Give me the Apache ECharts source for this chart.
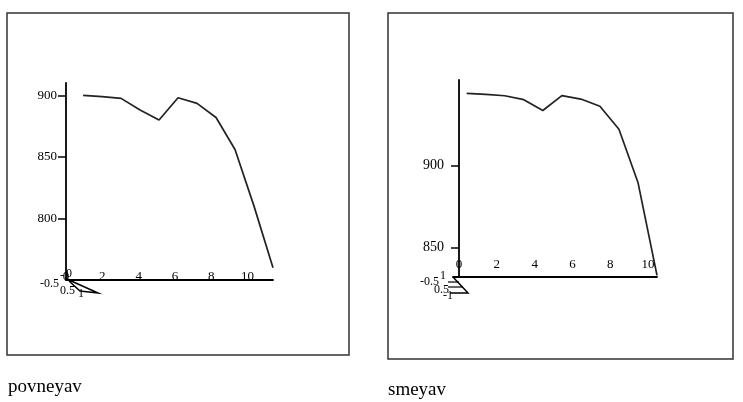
<!DOCTYPE html>
<html>
<head>
<meta charset="utf-8">
<script src="https://cdn.jsdelivr.net/npm/echarts@6/dist/echarts.min.js"></script>
<style>
  html, body { margin: 0; padding: 0; background: #fff; }
  #chart { width: 743px; height: 402px; }
</style>
</head>
<body>
<div id="chart"></div>
<script>
// index of the points (same for both plots)
var xIndex = [0, 1, 2, 3, 4, 5, 6, 7, 8, 9, 10];
// values
var povneyav = [900, 899, 897.5, 888, 880, 898, 893.5, 882, 856, 810, 760];
var smeyav = [943.9, 943.3, 942.4, 940, 933.4, 942.5, 940.4, 936, 922, 889.6, 833];
// tick labels
var xTicks = [0, 2, 4, 6, 8, 10];
var leftYTicks = [800, 850, 900];
var rightYTicks = [850, 900];

var font = 'Liberation Serif';
var chart = echarts.init(document.getElementById('chart'));

function pairs(ys) {
  return xIndex.map(function (x, i) { return [x, ys[i]]; });
}

// visible axis with the numbers, drawn on the grid's bottom edge
function labelAxis(grid, min, max, margin) {
  return {
    type: 'value', gridIndex: grid, min: min, max: max,
    axisLine: { show: true, lineStyle: { color: '#000', width: 1.8 } },
    axisTick: { show: false },
    splitLine: { show: false },
    axisLabel: {
      inside: true, margin: margin, customValues: xTicks,
      fontFamily: font, fontSize: 13, color: '#000'
    }
  };
}

// hidden axis that places the points
function dataAxis(grid, min, max) {
  return { type: 'value', gridIndex: grid, min: min, max: max, show: false };
}

function valueAxis(grid, min, max, ticks, size) {
  return {
    type: 'value', gridIndex: grid, min: min, max: max,
    axisLine: { show: true, lineStyle: { color: '#000', width: 1.8 } },
    axisTick: { show: true, length: 8, customValues: ticks, lineStyle: { color: '#000', width: 1.5 } },
    splitLine: { show: false },
    axisLabel: { margin: 9, customValues: ticks, fontFamily: font, fontSize: size, color: '#000' }
  };
}

function cornerText(x, y, t) {
  return { type: 'text', left: x, top: y, style: { text: t, font: '12px ' + font, fill: '#000' } };
}

chart.setOption({
  animation: false,
  title: [
    { text: 'povneyav', left: 8, top: 378, padding: 0, textStyle: { fontFamily: font, fontSize: 19, fontWeight: 'normal', color: '#000' } },
    { text: 'smeyav', left: 388, top: 381, padding: 0, textStyle: { fontFamily: font, fontSize: 19, fontWeight: 'normal', color: '#000' } }
  ],
  grid: [
    { left: 66, top: 83, width: 207, height: 197 },
    { left: 453, top: 80, width: 204, height: 197 }
  ],
  xAxis: [
    labelAxis(0, 0, 11.4, -3),
    dataAxis(0, -0.9, 10),
    labelAxis(1, -0.32, 10.47, 6),
    dataAxis(1, -0.72, 10)
  ],
  yAxis: [
    valueAxis(0, 750, 910, leftYTicks, 13),
    valueAxis(1, 832, 952, rightYTicks, 14)
  ],
  series: [
    {
      name: 'povneyav', type: 'line', xAxisIndex: 1, yAxisIndex: 0,
      data: pairs(povneyav), symbol: 'none', clip: false,
      lineStyle: { color: '#222', width: 1.7 }
    },
    {
      name: 'smeyav', type: 'line', xAxisIndex: 3, yAxisIndex: 1,
      data: pairs(smeyav), symbol: 'none', clip: false,
      lineStyle: { color: '#222', width: 1.7 }
    }
  ],
  graphic: [
    // plot frames
    { type: 'rect', shape: { x: 7, y: 13, width: 342, height: 342 }, style: { fill: 'none', stroke: '#333', lineWidth: 1.5 } },
    { type: 'rect', shape: { x: 388, y: 13, width: 345, height: 346 }, style: { fill: 'none', stroke: '#333', lineWidth: 1.5 } },
    // depth axis stubs at the origins
    { type: 'polyline', shape: { points: [[69, 280], [98, 293], [80, 291], [69, 281]] }, style: { stroke: '#000', lineWidth: 1.5, fill: 'none' } },
    { type: 'polyline', shape: { points: [[453, 277], [468, 293], [450, 293]] }, style: { stroke: '#000', lineWidth: 1.5, fill: 'none' } },
    { type: 'polyline', shape: { points: [[448, 282], [459, 282]] }, style: { stroke: '#000', lineWidth: 1.2 } },
    { type: 'polyline', shape: { points: [[448, 287], [463, 287]] }, style: { stroke: '#000', lineWidth: 1.2 } },
    // depth axis numbers
    cornerText(40, 278, '-0.5'),
    cornerText(60, 270, '-1'),
    cornerText(66, 268, '0'),
    cornerText(60, 285, '0.5'),
    cornerText(78, 288, '1'),
    cornerText(420, 276, '-0.5'),
    cornerText(440, 270, '1'),
    cornerText(434, 284, '0.5'),
    cornerText(443, 290, '-1')
  ]
});
</script>
</body>
</html>
